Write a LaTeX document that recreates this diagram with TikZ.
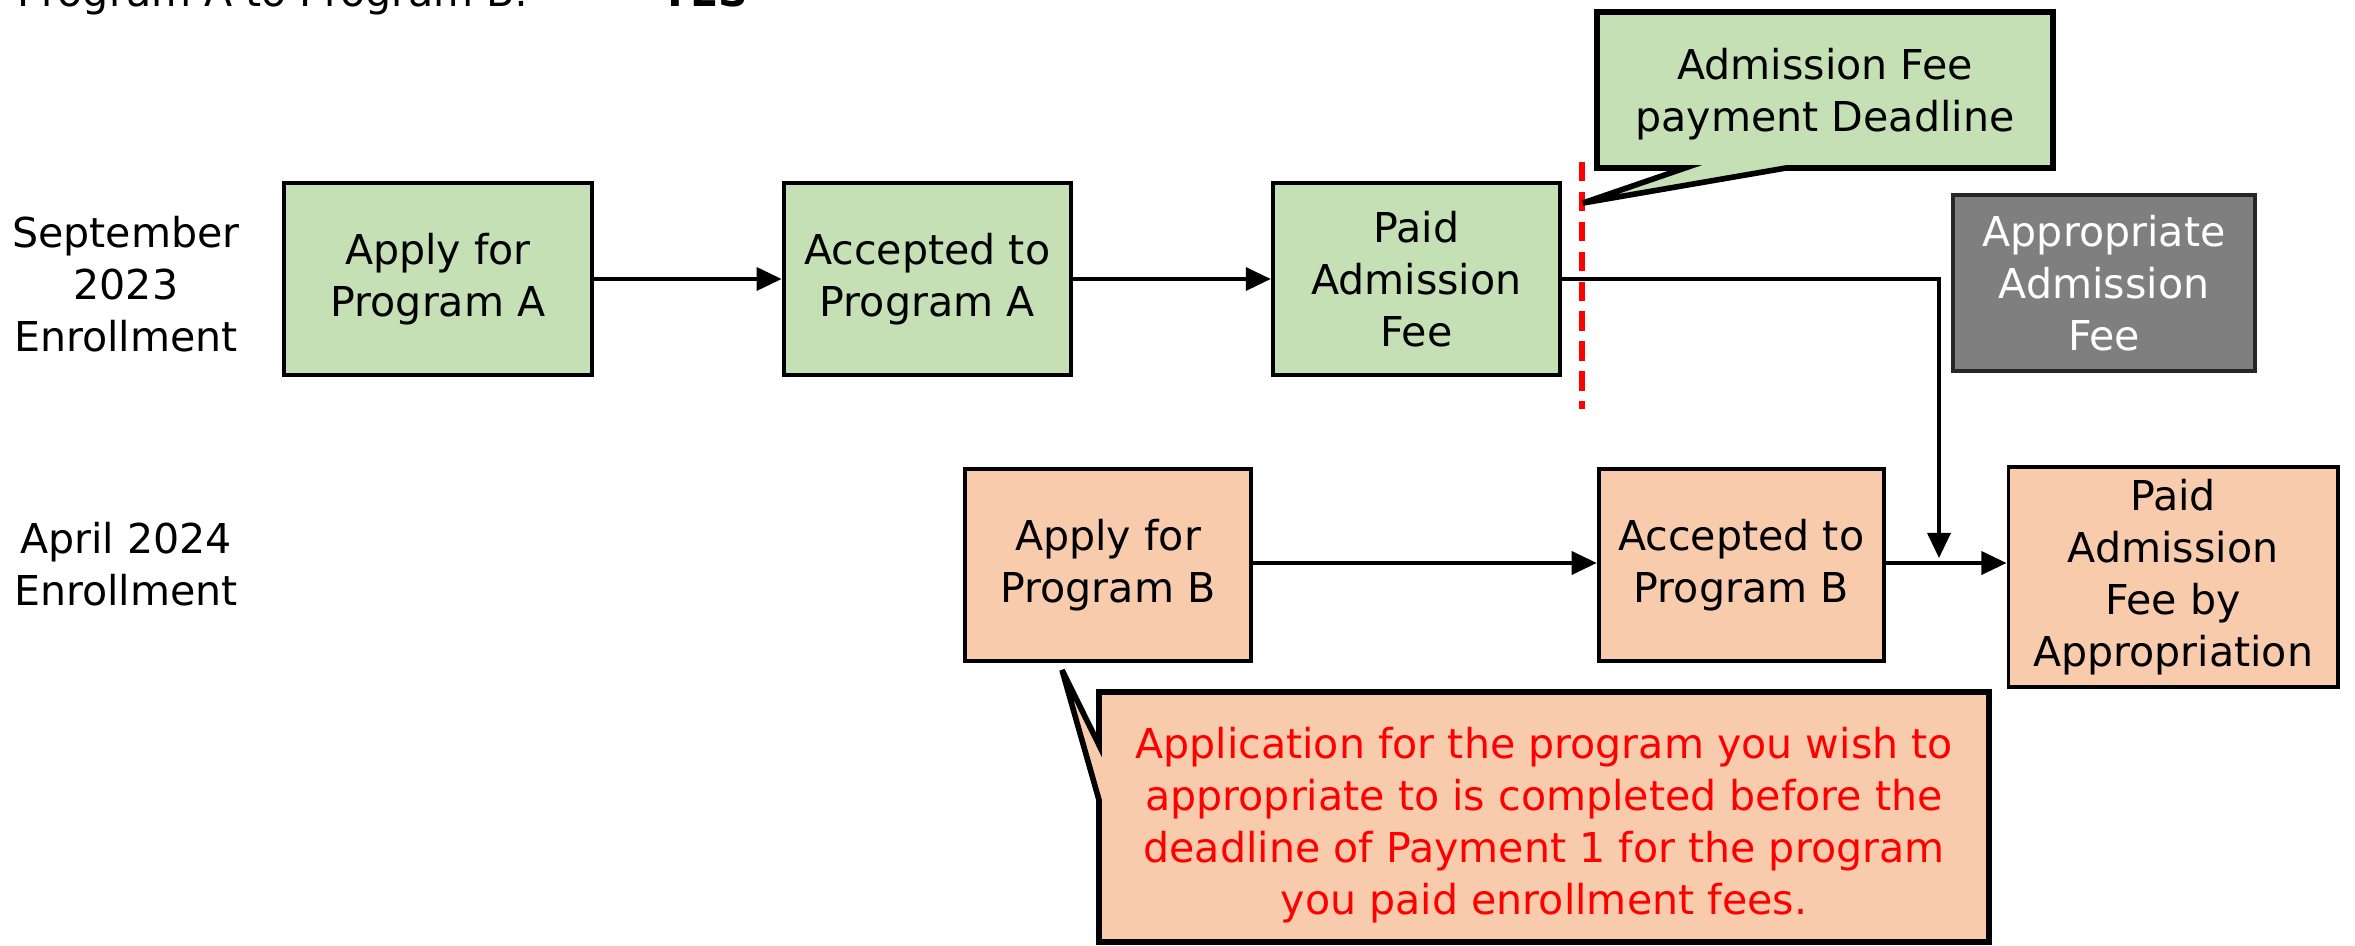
\documentclass[tikz,border=0pt]{standalone}
\usepackage{fontspec}
\setmainfont{DejaVu Sans}
\usetikzlibrary{positioning,arrows.meta}
\definecolor{boxgreen}{HTML}{C5E0B4}
\definecolor{boxorange}{HTML}{F8CBAD}
\definecolor{feegray}{HTML}{7F7F7F}
\tikzset{
  green box/.style={
    fill=boxgreen,
    draw=black,
    line width=1.1pt,
    minimum width={#1mm},
    minimum height={19.2mm},
    align=center,
  },
  orange box/.style={
    fill=boxorange,
    draw=black,
    line width=1.1pt,
    minimum width={#1mm},
    minimum height={19.2mm},
    align=center,
  },
  row label/.style={
    align=center,
  },
  balloon/.style={
    draw=black,
    line width=1.6pt,
    line join=miter,
  },
  flow/.style={
    line width=1pt,
    -{Triangle[length=2.5mm,width=2.3mm]},
  }
}

\begin{document}
\begin{tikzpicture}[x=0.01cm, y=-0.01cm,
    every node/.style={font=\fontsize{11.7}{14.8}\selectfont}]
        \useasboundingbox (0,0) rectangle (2355,946);

        % heading, cut by the top edge
        \node [anchor=base west, inner sep=0pt] (heading) at (17,7) {Program A to Program B:};
        \node [anchor=base west, inner sep=0pt, font=\fontsize{11.7}{14.8}\selectfont\bfseries] (answer) at (660,7) {YES};

        % row labels
        \node [row label] (sep) at (126,284) {September\\2023\\Enrollment};
        \node [row label] (apr) at (126,564) {April 2024\\Enrollment};

        % September row
        \node [green box=30.7] (a1) at (438,279) {Apply for\\Program A};
        \node [green box=28.7, right=1.88cm of a1] (a2) {Accepted to\\Program A};
        \node [green box=28.7, right=1.98cm of a2] (a3) {Paid\\Admission\\Fee};
        \node [fill=feegray, draw=black!85, line width=1pt, text=white, align=center,
               minimum width=30.2mm, minimum height=17.6mm] (fee) at (2104,283) {Appropriate\\Admission\\Fee};

        % April row
        \node [orange box=28.5] (b1) at (1108,565) {Apply for\\Program B};
        \node [orange box=28.5, right=3.44cm of b1] (b2) {Accepted to\\Program B};
        \node [orange box=32.9, minimum height=21.9mm] (b3) at (2173,577) {Paid\\Admission\\Fee by\\Appropriation};

        % deadline
        \draw [red, line width=1.7pt, dash pattern=on 5.5pt off 3pt] (1582,162) -- (1582,409);

        \coordinate (due tip) at (1583,203);
        \draw [balloon, fill=boxgreen] (1597,12) -- (2053,12) -- (2053,168) -- (1786,168)
              -- (due tip) -- (1685,168) -- (1597,168) -- cycle;
        \node [align=center] (due) at (1825,94) {Admission Fee\\payment Deadline};

        \coordinate (note tip) at (1062,670);
        \draw [balloon, fill=boxorange] (1099,692) -- (1989,692) -- (1989,942) -- (1099,942)
              -- (1099,800) -- (note tip) -- (1099,745) -- cycle;
        \node [align=center, text=red] (note) at (1544,825)
              {Application for the program you wish to\\appropriate to is completed before the\\deadline of Payment 1 for the program\\you paid enrollment fees.};

        % connectors
        \coordinate (drop) at (1939,558);
        \draw [flow] (a1) -- (a2);
        \draw [flow] (a2) -- (a3);
        \draw [flow] (a3.east) -| (drop);
        \draw [flow] (b1.east |- 0,563) -- (b2.west |- 0,563);
        \draw [flow] (b2.east |- 0,563) -- (b3.west |- 0,563);
      \end{tikzpicture}
\end{document}
